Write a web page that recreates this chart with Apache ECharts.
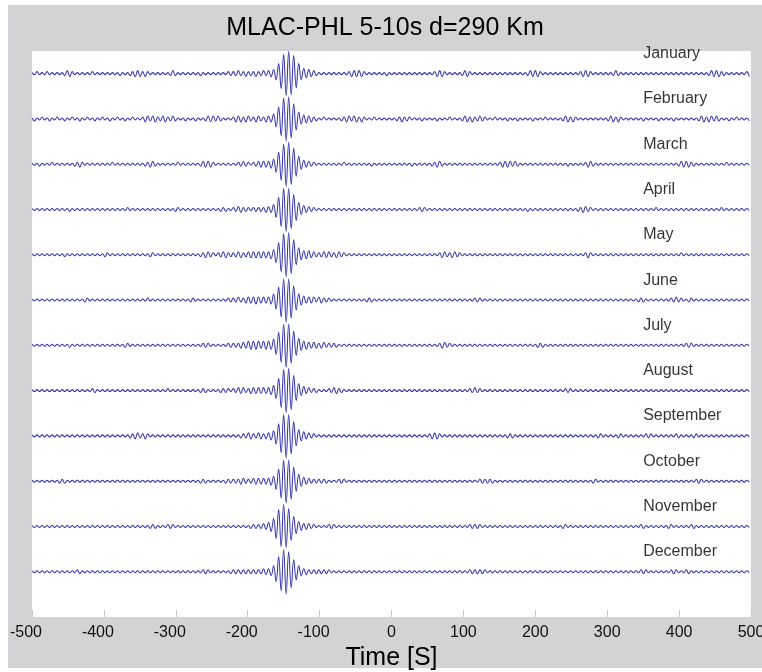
<!DOCTYPE html>
<html>
<head>
<meta charset="utf-8">
<script src="https://cdn.jsdelivr.net/npm/echarts@6/dist/echarts.min.js"></script>
<style>
html,body{margin:0;padding:0;background:#fff;}
#frame{position:absolute;left:8px;top:5px;width:754px;height:663px;background:#d3d3d6;}
#chart{position:absolute;left:0;top:0;width:762px;height:672px;}
</style>
</head>
<body>
<div id="frame"></div>
<div id="chart"></div>
<script>
// ---- data ----
const titleText = 'MLAC-PHL 5-10s d=290 Km';
const xName = 'Time [S]';
const xTickValues = [-500, -400, -300, -200, -100, 0, 100, 200, 300, 400, 500];
const months = ['January','February','March','April','May','June','July','August','September','October','November','December'];
const labelTime = 350;        // time where month labels start
const sampleStart = -500;     // time of first half-cycle extremum (s)
const sampleStep = 3.5;       // seconds between successive half-cycle extrema
// half-cycle peak amplitudes (alternating polarity), one value per extremum
const janPeaks = [
1,1,2,1,1,1,2,1,1,1, 1,1,1,2,3,3,2,1,1,1, 1,1,1,1,2,1,1,1,1,1, 1,1,1,1,1,2,1,1,1,2,
2,3,3,3,2,3,2,1,1,1, 1,1,1,1,1,2,3,2,1,1, 1,1,1,1,1,1,1,2,1,1, 1,1,1,1,1,1,1,1,2,2,
2,2,3,2,2,3,2,2,2,3, 2,2,3,2,3,3,4,6,10,15, 19,22,22,21,18,14,10,6,5,4, 4,3,3,2,1,1,1,1,1,1,
1,1,1,1,1,1,2,3,3,3, 3,3,2,1,1,1,1,1,1,1, 1,2,1,1,1,1,1,1,1,1, 1,1,1,1,1,1,1,1,1,1,
2,3,3,3,2,1,1,1,1,1, 1,2,3,3,2,1,1,1,1,1, 1,1,1,1,1,1,1,1,1,1, 1,1,1,1,1,1,1,2,3,3,
3,3,2,1,1,1,1,1,1,1, 1,1,1,1,1,1,1,1,2,3, 3,3,2,1,1,1,1,1,1,1, 1,2,3,2,1,1,1,1,1,1,
1,1,1,1,1,1,1,1,1,1, 1,1,1,1,1,1,1,1,1,1, 1,1,1,1,1,1,1,1,1,2, 3,3,3,3,2,2,1,1,1,1,
1,1,1,1,2,3,2,1,1,1];
const febPeaks = [
1,2,1,1,2,1,1,2,1,1, 2,1,1,2,1,1,2,1,1,2, 1,1,2,1,1,2,1,1,2,1, 1,2,1,1,2,1,1,2,1,1,
2,1,1,1,2,3,3,2,3,3, 2,2,3,3,2,2,3,2,1,1, 1,2,1,1,1,2,1,1,1,2, 3,3,3,2,3,2,1,1,1,1,
2,3,3,3,2,3,3,2,2,3, 3,2,2,3,3,3,5,8,12,17, 21,22,22,19,15,11,7,5,4,4, 3,3,2,2,1,1,2,1,1,1,
1,1,1,2,2,3,3,2,3,3, 2,3,2,1,1,1,2,1,1,1, 1,1,1,1,1,2,2,3,2,2, 2,1,1,1,1,2,1,1,1,1,
1,2,1,1,1,1,2,1,1,1, 1,2,3,3,2,3,2,2,3,2, 2,1,1,1,2,1,1,1,1,2, 1,1,1,2,1,1,1,1,1,2,
1,1,1,1,2,1,1,1,1,1, 1,2,3,3,2,3,2,1,1,1, 1,1,1,1,1,1,1,1,1,2, 3,3,2,3,2,1,1,1,1,1,
1,1,1,2,1,1,1,1,1,2, 1,1,1,1,1,2,1,1,1,1, 1,1,1,1,1,2,3,3,2,3, 3,2,3,2,1,1,1,2,1,1,
2,1,1,1,1,2,1,1,1,1];
const marPeaks = [
1,1,1,2,1,1,1,1,2,1, 1,1,1,1,1,1,1,2,2,3, 2,1,1,1,1,1,1,1,1,1, 1,1,2,1,1,1,1,1,1,1,
1,1,1,1,1,2,2,3,3,2, 1,1,1,1,1,1,1,1,2,1, 1,1,1,1,1,1,1,2,3,3, 3,3,2,1,1,1,1,1,1,1,
1,1,2,2,3,2,2,1,2,2, 3,3,3,3,3,4,5,8,12,16, 20,22,22,20,16,12,8,5,4,3, 3,2,2,1,1,1,1,1,1,1,
1,1,1,1,2,1,1,1,1,1, 1,1,1,1,1,2,1,1,1,1, 1,1,1,1,1,1,1,1,1,1, 1,2,1,1,1,1,1,1,1,2,
2,3,3,2,1,1,1,1,1,1, 1,1,1,1,1,1,1,1,1,1, 1,1,1,1,1,1,2,3,3,3, 3,2,3,2,1,1,1,1,1,1,
1,1,1,1,1,1,1,1,1,1, 1,1,1,2,1,1,1,1,1,1, 2,3,3,2,1,1,1,1,1,1, 1,1,1,1,1,1,1,1,1,1,
1,1,1,1,1,1,1,1,1,1, 1,1,1,1,1,1,1,2,3,3, 3,3,2,2,1,1,1,1,1,1, 1,1,1,1,1,1,2,1,1,1,
1,1,1,1,1,1,1,1,1,1];
const aprPeaks = [
1,1,1,1,1,1,1,1,1,1, 1,1,1,1,1,2,1,1,1,1, 1,1,1,1,1,1,1,1,1,1, 1,1,1,1,1,1,1,1,2,1,
1,1,1,1,1,1,1,1,1,1, 1,1,1,1,1,1,1,2,2,1, 1,1,1,1,1,1,1,1,1,1, 1,1,1,1,1,2,2,2,1,1,
2,2,3,3,2,2,2,1,2,2, 2,2,2,3,3,3,5,8,12,17, 21,22,21,19,15,11,7,5,4,3, 3,2,2,1,1,1,1,1,1,1,
1,1,1,1,1,1,1,1,1,1, 1,1,1,1,1,1,1,1,1,1, 1,1,1,1,1,1,1,1,1,1, 1,1,1,1,2,2,2,1,1,1,
1,1,1,1,1,1,1,1,1,1, 1,1,1,1,1,1,1,1,1,1, 1,1,1,1,1,1,1,1,1,1, 1,1,1,1,1,1,1,2,1,1,
1,1,1,1,1,1,1,1,1,1, 1,1,1,1,1,1,1,2,2,3, 3,2,2,1,1,1,1,1,1,1, 1,1,1,1,1,1,1,1,1,1,
1,1,1,1,1,1,1,1,2,1, 1,1,1,1,1,1,1,1,1,1, 1,1,1,1,1,1,1,1,1,1, 1,1,1,1,2,1,1,1,1,1,
1,1,1,1,1,1,1,1,1,1];
const mayPeaks = [
1,1,1,1,1,1,1,1,1,1, 1,1,1,2,1,1,1,1,1,1, 1,1,1,1,1,1,1,1,1,2, 2,1,1,1,1,1,1,1,1,1,
1,1,1,1,1,1,1,2,2,1, 1,1,1,1,1,1,1,1,1,1, 1,1,1,1,1,1,1,2,2,3, 3,2,2,1,2,2,3,3,2,2,
2,2,3,3,2,2,3,3,3,3, 3,3,3,3,3,4,5,8,12,17, 21,22,22,19,15,10,7,5,4,4, 4,3,3,2,2,2,3,3,3,2,
2,3,3,2,2,1,1,1,1,1, 1,1,1,1,1,1,1,1,1,1, 1,1,1,1,1,1,1,1,1,1, 1,1,1,1,1,1,1,1,1,1,
1,1,2,3,3,2,2,3,3,2, 2,1,1,1,1,1,1,1,1,1, 1,1,1,1,1,1,1,1,1,1, 1,1,1,1,1,1,1,1,1,1,
1,1,1,1,1,1,1,1,1,1, 1,1,1,1,1,1,1,1,1,1, 2,3,2,1,1,1,1,1,1,1, 1,1,1,1,1,1,1,1,1,1,
1,1,1,1,1,1,1,1,1,1, 1,1,1,1,1,1,1,1,2,1, 1,1,1,1,1,1,1,1,1,1, 1,1,1,1,1,1,1,1,1,1,
1,1,1,1,1,1,1,1,1,1];
const junPeaks = [
1,1,1,1,1,1,1,1,1,1, 1,1,1,1,1,1,1,1,1,1, 1,2,2,1,1,1,1,1,1,1, 1,1,1,1,1,1,1,1,1,1,
1,1,1,1,1,1,2,1,1,1, 1,1,1,1,1,1,1,1,1,1, 1,1,1,2,2,1,1,1,1,1, 1,1,1,1,1,1,1,1,2,2,
2,2,3,2,2,3,3,3,3,4, 3,3,3,3,3,4,6,9,13,17, 21,22,21,18,14,10,6,5,4,3, 3,3,3,2,3,3,2,2,2,1,
1,1,1,1,1,1,1,1,1,1, 1,1,1,2,2,2,1,1,1,1, 1,1,1,1,1,1,1,1,1,1, 1,1,1,1,1,1,1,1,1,1,
1,1,1,1,1,1,1,1,1,1, 1,1,1,1,1,1,2,2,2,1, 1,1,1,1,1,1,1,1,1,1, 1,1,1,1,1,1,1,1,1,1,
1,1,1,1,1,1,1,1,1,1, 1,1,1,1,1,1,1,1,1,1, 1,1,1,1,1,1,1,1,1,1, 1,1,1,1,1,1,1,1,1,1,
1,2,2,2,1,1,1,1,1,1, 1,1,1,1,2,2,3,2,2,1, 1,2,2,1,1,1,1,1,1,1, 1,1,1,1,1,1,1,1,1,1,
1,1,1,1,1,1,1,1,1,1];
const julPeaks = [
1,1,1,1,1,1,1,1,1,1, 1,1,1,1,1,2,1,1,1,1, 1,1,1,1,1,1,1,1,1,1, 1,1,1,1,1,1,1,2,2,1,
1,1,1,1,1,1,1,1,1,1, 1,1,1,1,1,1,1,1,1,1, 1,1,1,1,1,1,1,1,2,2, 2,1,1,1,1,1,1,1,2,2,
2,2,2,3,3,3,4,4,4,4, 4,3,4,4,4,4,6,9,13,17, 21,22,21,18,14,10,7,5,4,4, 3,3,3,3,2,3,3,2,2,2,
2,2,1,1,1,1,1,1,1,1, 1,1,1,1,1,1,1,1,1,1, 1,1,1,1,1,1,1,1,1,1, 1,1,1,1,1,1,1,1,1,1,
1,1,2,3,3,2,2,1,1,1, 1,1,1,1,1,1,1,1,1,1, 1,1,1,1,1,1,1,1,1,1, 1,1,1,1,1,1,1,1,1,1,
1,2,2,2,1,1,1,1,1,1, 1,1,1,1,1,1,1,1,1,1, 1,1,1,1,1,1,1,1,1,1, 1,1,1,1,1,1,1,1,1,1,
1,1,1,1,1,1,1,1,1,1, 1,1,1,1,1,1,1,1,1,1, 2,2,2,1,1,1,1,1,1,1, 1,1,1,1,1,1,1,1,1,1,
1,1,1,1,1,1,1,1,1,1];
const augPeaks = [
1,1,1,1,1,1,1,1,1,1, 1,1,1,1,1,1,1,1,1,1, 1,1,1,1,2,2,1,1,1,1, 1,1,1,1,1,1,1,1,1,1,
1,1,1,1,1,1,1,1,1,1, 1,1,1,1,2,1,1,1,1,1, 1,1,1,1,1,1,1,2,2,2, 1,1,1,1,1,2,2,2,2,1,
2,2,3,3,3,2,2,3,3,3, 3,3,3,3,3,4,5,8,12,17, 21,22,22,19,15,10,7,5,4,3, 3,2,2,2,1,1,1,1,2,2,
3,3,2,2,1,1,1,1,1,1, 1,1,1,1,1,1,1,1,1,1, 1,1,1,1,1,1,1,1,1,1, 1,1,1,1,1,1,1,1,1,1,
1,1,1,1,1,1,1,1,1,1, 1,1,1,1,2,2,3,2,2,1, 1,1,1,1,1,1,1,1,1,1, 1,1,1,1,1,1,1,1,1,1,
1,1,1,1,1,1,1,1,1,1, 1,1,2,2,2,1,1,1,1,1, 1,1,1,1,1,1,1,1,1,1, 1,1,1,1,1,1,1,1,1,1,
1,1,1,1,1,1,1,1,1,1, 1,1,1,1,1,1,1,1,1,1, 1,1,1,1,1,1,1,1,1,1, 1,1,1,1,1,1,1,1,1,1,
1,1,1,1,1,1,1,1,1,1];
const sepPeaks = [
1,1,1,1,1,1,1,1,1,1, 1,1,1,1,1,1,1,1,1,1, 1,1,1,1,1,1,1,1,1,1, 1,1,1,1,1,1,1,1,1,2,
2,3,3,2,2,3,2,1,1,1, 1,1,1,1,1,1,1,1,1,1, 1,1,1,1,1,1,1,1,1,1, 1,1,1,1,1,1,1,1,1,1,
1,1,1,2,2,2,3,3,2,2, 3,3,2,3,3,4,5,8,12,17, 21,22,21,18,14,10,6,5,4,3, 3,2,2,1,1,1,1,1,1,1,
1,1,1,1,1,1,1,1,1,1, 1,1,1,1,1,1,1,1,1,1, 1,1,1,1,1,1,1,1,1,1, 1,1,1,1,1,1,1,1,2,3,
3,3,2,1,1,1,1,1,1,1, 1,1,1,1,1,1,1,1,1,1, 1,1,1,1,1,1,1,1,1,2, 2,2,1,1,1,1,1,1,1,1,
1,1,1,1,1,1,1,1,1,1, 1,1,1,1,1,1,1,1,1,1, 1,1,1,1,1,2,2,1,1,1, 1,1,1,2,2,1,1,1,1,1,
1,1,1,1,2,2,2,1,1,1, 1,1,1,1,1,1,2,2,1,1, 1,1,1,2,2,1,1,1,1,1, 1,1,1,1,1,1,1,1,1,1,
1,1,1,1,1,1,1,1,1,1];
const octPeaks = [
1,1,1,1,1,1,1,1,1,1, 1,2,2,2,1,1,1,1,1,1, 1,1,1,1,1,1,1,1,1,1, 1,1,1,1,1,1,1,1,1,1,
1,1,1,1,1,1,1,1,1,1, 1,1,1,1,1,1,1,1,1,1, 1,1,1,1,1,1,1,2,2,2, 1,1,1,1,1,1,1,2,2,2,
2,2,2,3,3,2,2,2,3,3, 3,3,3,3,3,4,5,8,12,17, 21,22,21,18,14,10,7,5,4,3, 3,2,2,2,2,2,2,2,1,1,
1,1,2,2,2,1,1,1,1,1, 1,1,1,1,1,1,1,1,1,1, 1,1,1,1,1,1,1,1,1,1, 1,1,1,1,1,1,1,1,1,1,
1,1,1,1,1,1,1,1,1,1, 1,1,1,1,1,1,1,1,2,2, 2,2,2,2,1,1,1,1,1,1, 1,1,1,1,1,1,1,1,1,1,
1,1,1,1,1,1,1,1,1,1, 1,1,1,1,1,1,1,1,1,1, 1,1,1,2,2,1,1,1,1,1, 1,1,1,1,1,1,1,1,1,1,
1,1,1,1,1,1,1,1,1,1, 1,1,1,1,1,1,1,1,1,1, 1,1,1,1,2,2,2,1,1,1, 1,1,1,1,1,1,1,1,1,1,
1,1,1,1,1,1,1,1,1,1];
const novPeaks = [
1,1,1,1,1,1,1,1,1,1, 1,1,1,1,1,1,1,1,1,1, 1,1,1,1,1,1,1,1,1,1, 1,1,1,1,1,1,1,1,1,1,
1,1,1,1,1,1,1,2,2,2, 1,1,1,1,2,2,2,1,1,1, 1,1,1,1,1,1,1,1,1,1, 1,1,1,1,1,1,1,1,1,1,
1,1,1,1,1,1,1,2,2,2, 2,2,3,3,4,5,8,12,17,20, 22,21,18,14,10,7,5,4,3,3, 3,2,2,1,1,1,1,1,2,2,
2,1,1,1,1,1,1,1,1,1, 1,1,1,1,1,1,1,1,1,1, 1,1,1,1,1,1,1,1,1,1, 1,1,1,1,1,1,1,1,1,1,
1,1,1,1,1,1,1,1,1,1, 1,1,1,1,2,2,2,2,2,1, 1,1,1,1,1,1,1,1,1,1, 1,1,1,1,1,1,1,1,1,1,
1,1,1,1,1,1,1,1,1,1, 1,2,2,1,1,1,1,1,1,1, 1,1,1,1,1,1,1,1,1,1, 1,1,1,1,1,1,1,1,1,1,
1,1,2,2,1,1,1,1,1,1, 1,1,1,2,2,1,1,1,1,1, 1,1,2,2,1,1,1,1,1,1, 1,1,1,1,1,1,1,1,1,1,
1,1,1,1,1,1,1,1,1,1];
const decPeaks = [
1,1,1,1,1,1,1,1,1,1, 1,1,1,1,1,1,1,1,2,2, 1,1,1,1,1,1,1,1,1,1, 1,1,1,1,1,1,1,1,1,1,
1,1,1,1,1,1,1,1,1,1, 1,1,1,1,1,1,1,1,1,1, 1,1,1,1,1,1,1,1,2,2, 2,1,1,1,1,1,1,1,1,2,
2,2,2,2,2,2,2,2,2,2, 2,2,3,3,3,4,6,10,15,19, 22,22,20,16,12,8,6,4,3,3, 2,2,2,2,2,2,2,2,2,1,
1,1,1,1,1,1,1,1,1,1, 1,1,1,1,1,1,1,1,1,1, 1,1,1,1,1,1,1,1,1,1, 1,1,1,1,1,1,1,1,1,1,
1,1,1,1,1,1,1,1,1,1, 1,1,1,1,2,2,2,2,2,2, 2,1,1,1,1,1,1,1,1,1, 1,1,1,1,1,1,1,1,1,1,
1,1,1,1,1,1,1,1,1,1, 1,1,1,1,1,1,1,1,1,1, 1,1,1,1,1,1,1,1,1,1, 1,1,1,1,1,1,1,1,1,1,
1,1,2,2,2,1,1,1,1,1, 1,1,1,1,2,2,2,1,1,1, 2,2,1,1,1,1,1,1,1,1, 1,1,1,1,1,1,1,1,1,1,
1,1,1,1,1,1,1,1,1,1];
const tracePeaks = [janPeaks, febPeaks, marPeaks, aprPeaks, mayPeaks, junPeaks,
                    julPeaks, augPeaks, sepPeaks, octPeaks, novPeaks, decPeaks];
const ampPerSpacing = 45.3;   // amplitude counts equal to one trace spacing

// ---- chart ----
const chart = echarts.init(document.getElementById('chart'), null, {renderer: 'canvas'});
const traceColor = '#3535ae';
const font = 'Liberation Sans, Arial, sans-serif';
const tMax = xTickValues[xTickValues.length - 1];
const series = tracePeaks.map((peaks, i) => {
  const offset = months.length - i;
  const data = [];
  peaks.forEach((a, k) => {
    const t = sampleStart + k * sampleStep;
    if (t <= tMax) data.push([t, offset + (k % 2 === 0 ? 1 : -1) * a / ampPerSpacing]);
  });
  return {
    type: 'line',
    name: months[i],
    data: data,
    showSymbol: false,
    smooth: 0.45,
    lineStyle: {color: traceColor, width: 1.05},
    silent: true,
    animation: false
  };
});
series.push({
  type: 'scatter',
  symbolSize: 0,
  silent: true,
  animation: false,
  data: months.map((m, i) => ({value: [labelTime, months.length - i + 0.44], name: m})),
  label: {
    show: true, position: 'right', distance: 0,
    formatter: p => p.name,
    fontFamily: font, fontSize: 16, color: '#000'
  }
});

chart.setOption({
  animation: false,
  graphic: [{
    type: 'text', x: 385, y: 28,
    style: {text: titleText, fontFamily: font, fontSize: 25, fill: '#000',
            textAlign: 'center', textVerticalAlign: 'middle'}
  }],
  grid: {left: 32, top: 51, width: 719, height: 566, show: true, backgroundColor: '#fff', borderWidth: 0,
         containLabel: false, outerBoundsMode: 'none'},
  xAxis: {
    type: 'value', min: xTickValues[0], max: tMax, interval: 100,
    name: xName, nameLocation: 'middle', nameGap: 27,
    nameTextStyle: {fontFamily: font, fontSize: 25, color: '#000'},
    axisLine: {show: false},
    axisTick: {show: true, inside: true, length: 7, lineStyle: {color: '#c8c8c8', width: 1}},
    splitLine: {show: false},
    axisLabel: {
      fontFamily: font, fontSize: 16, color: '#111', margin: 8,
      formatter: v => v < 0 ? v + '{p|\u00a0}' : String(v),
      rich: {p: {width: 12, fontFamily: font, fontSize: 16}}
    }
  },
  yAxis: {type: 'value', min: 0, max: 12.5, show: false, splitLine: {show: false}},
  series: series
});
</script>
</body>
</html>
